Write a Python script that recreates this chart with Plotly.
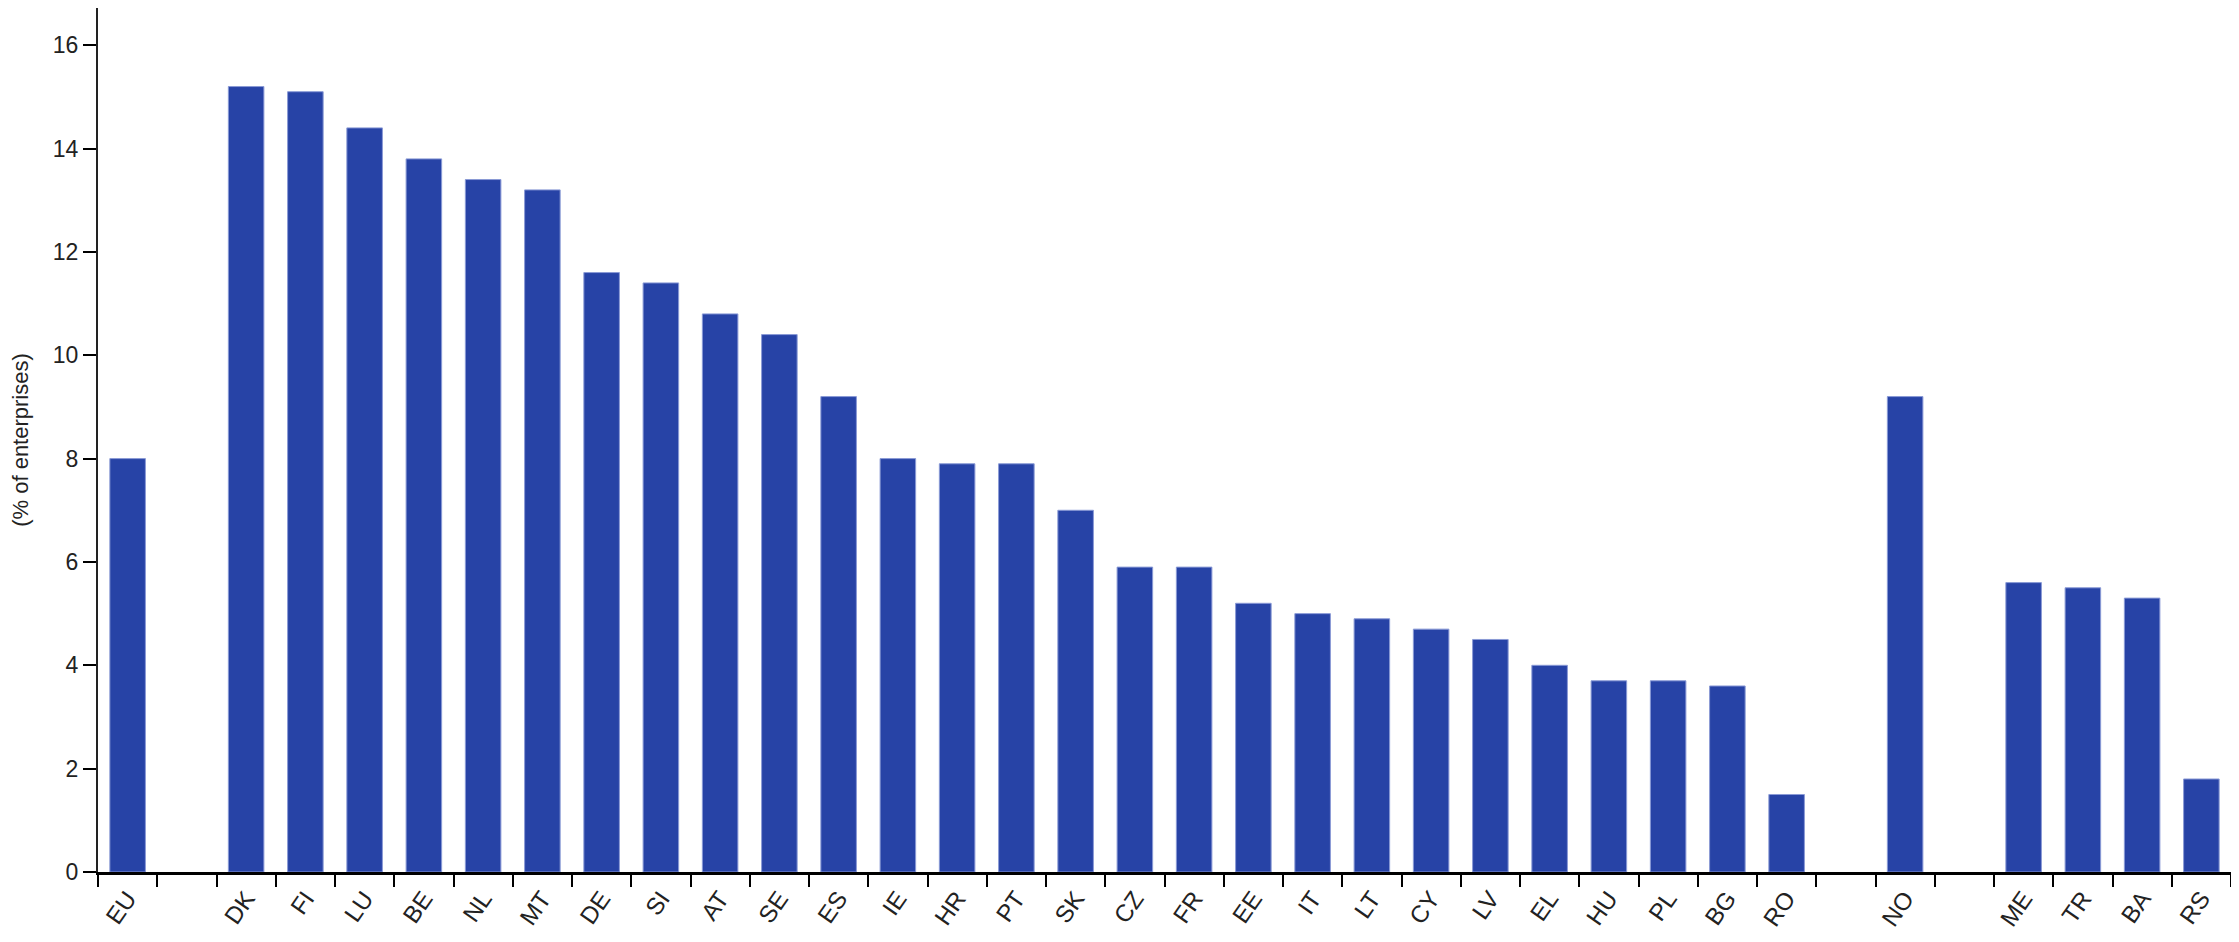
import plotly.graph_objects as go

# countries, with blank slots where the reference leaves a gap
countries = ["EU", " ", "DK", "FI", "LU", "BE", "NL", "MT", "DE", "SI", "AT", "SE",
             "ES", "IE", "HR", "PT", "SK", "CZ", "FR", "EE", "IT", "LT", "CY", "LV",
             "EL", "HU", "PL", "BG", "RO", "  ", "NO", "   ", "ME", "TR", "BA", "RS"]
share = [8.0, None, 15.2, 15.1, 14.4, 13.8, 13.4, 13.2, 11.6, 11.4, 10.8, 10.4,
         9.2, 8.0, 7.9, 7.9, 7.0, 5.9, 5.9, 5.2, 5.0, 4.9, 4.7, 4.5,
         4.0, 3.7, 3.7, 3.6, 1.5, None, 9.2, None, 5.6, 5.5, 5.3, 1.8]
y_ticks = [0, 2, 4, 6, 8, 10, 12, 14, 16]

fig = go.Figure()
fig.add_trace(go.Bar(
    x=countries, y=share,
    marker=dict(color="#2743a6", line=dict(color="#8a9ad6", width=1)),
    hovertemplate="%{x}: %{y}<extra></extra>",
))

# page body keeps its default 8px margin, so the figure is a bit smaller
fig.update_layout(
    width=2231, height=934,
    paper_bgcolor="white", plot_bgcolor="white",
    margin=dict(l=90, r=8, t=0, b=70),
    bargap=0.4,
    showlegend=False,
    font=dict(family="Liberation Sans, Arial, sans-serif", size=23, color="#222"),
    xaxis=dict(
        type="category", categoryorder="array", categoryarray=countries,
        tickson="boundaries", ticks="outside", ticklen=12, tickwidth=2, tickcolor="#000",
        showline=True, linecolor="#000", linewidth=3,
        tickangle=-55, tickfont=dict(size=24, color="#222"),
        showgrid=False, automargin=False,
    ),
    yaxis=dict(
        range=[0, 16.72], tickvals=y_ticks,
        ticks="outside", ticklen=13, tickwidth=2, tickcolor="#000",
        showline=True, linecolor="#222", linewidth=2,
        showgrid=False, zeroline=False,
        tickfont=dict(size=23, color="#222"),
        title=dict(text="(% of enterprises)", font=dict(size=22, color="#222"), standoff=26),
        automargin=False,
    ),
)

fig.write_html("out.html")
